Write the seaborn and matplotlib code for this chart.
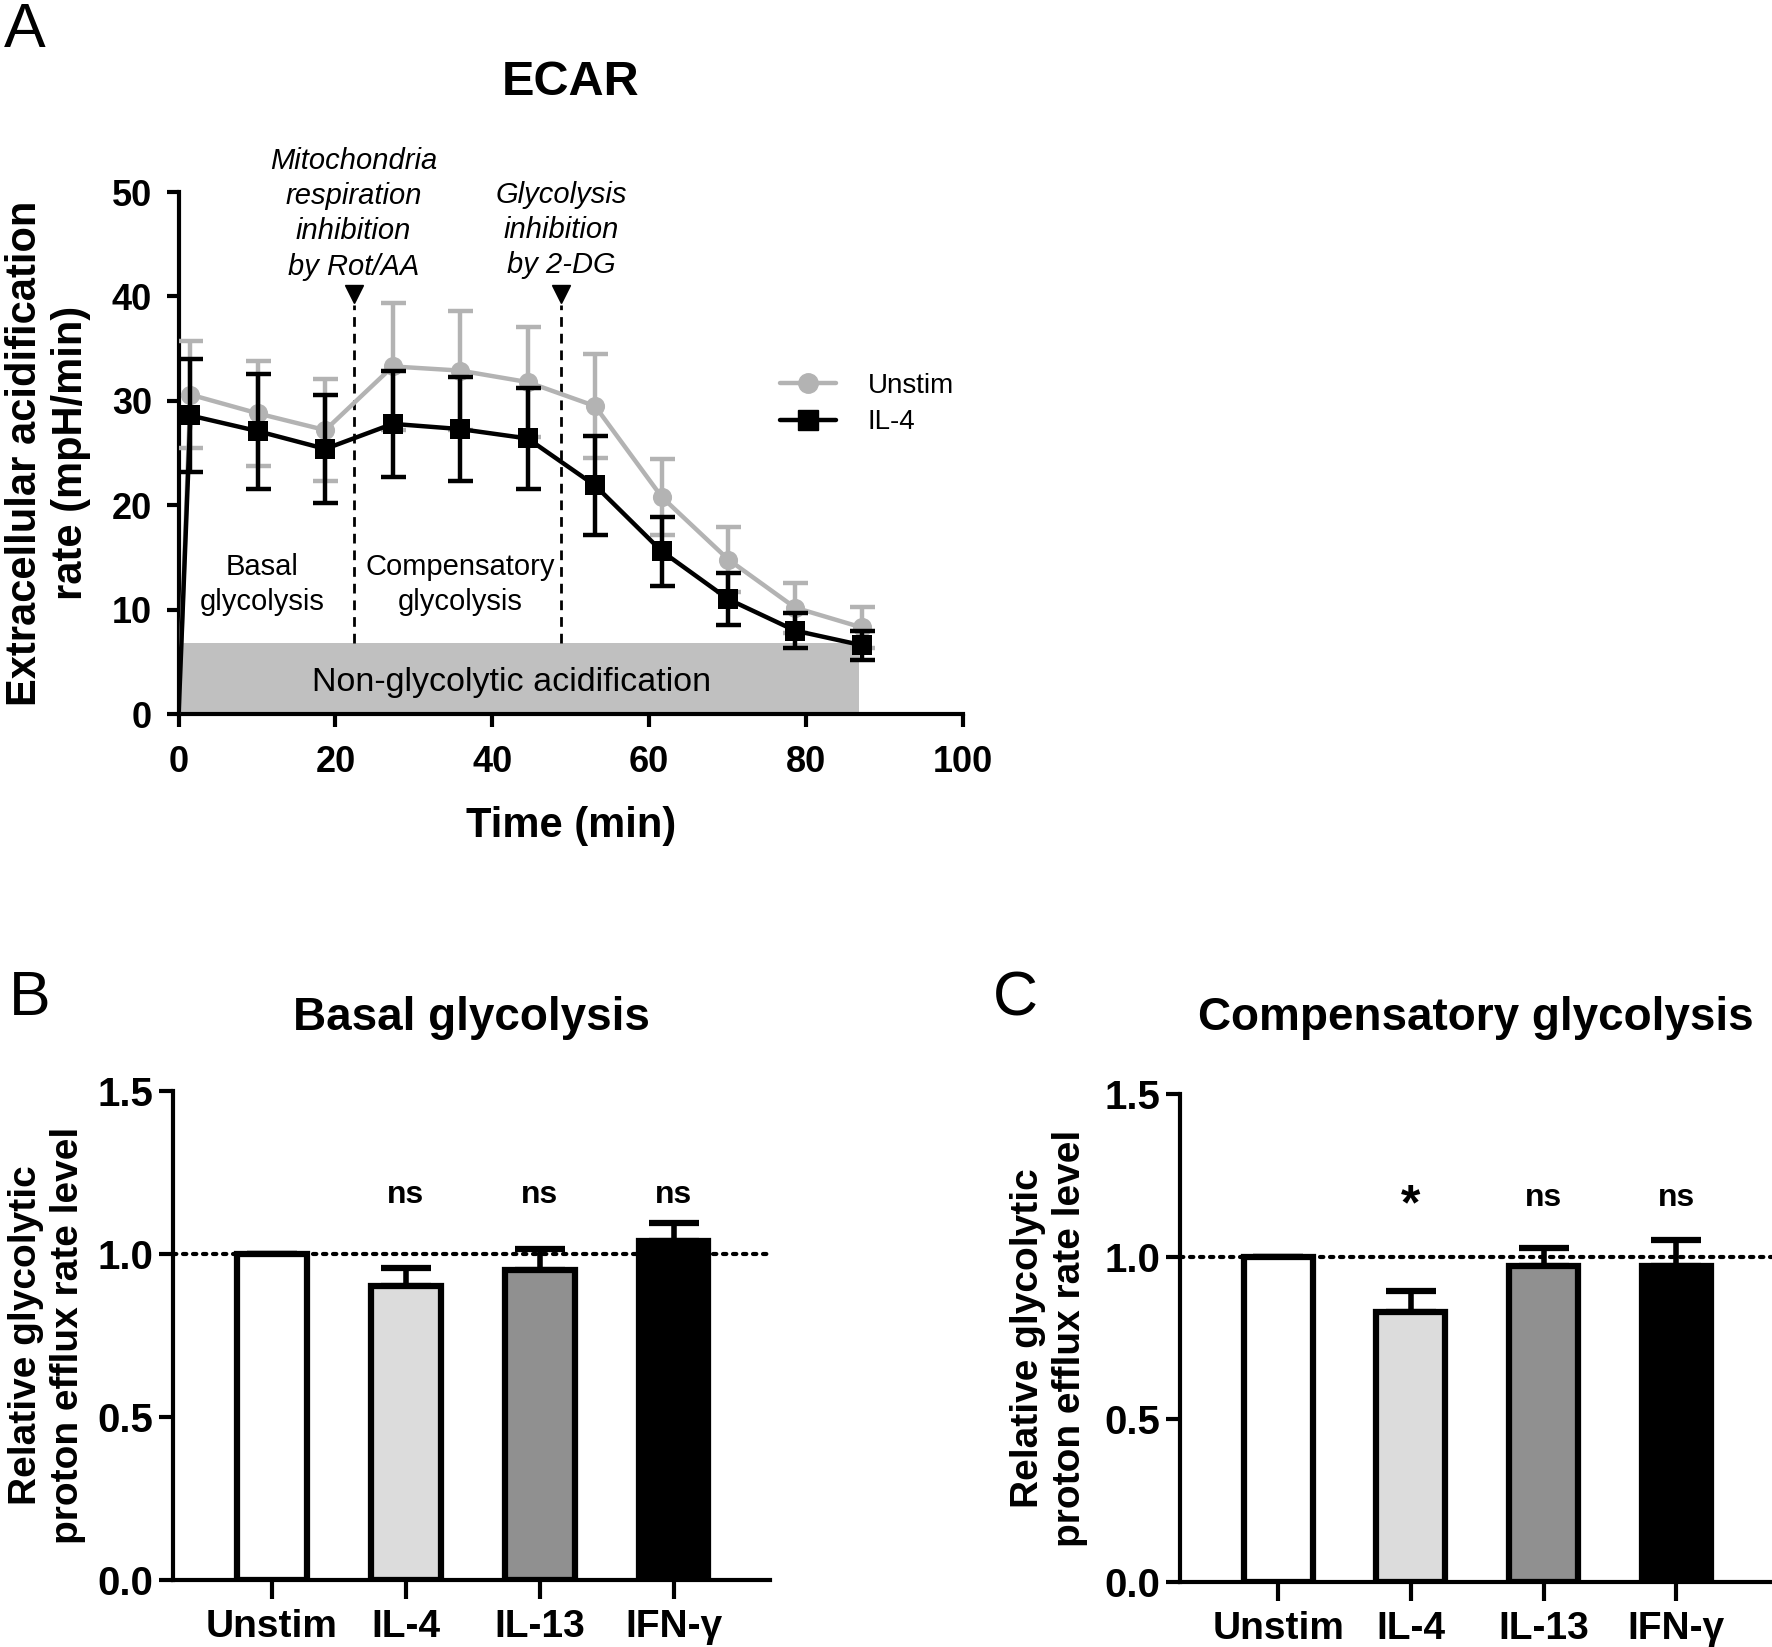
import numpy as np
import pandas as pd
import matplotlib
matplotlib.use("Agg")
import matplotlib.pyplot as plt
from matplotlib.lines import Line2D
import seaborn as sns

# ---- panel A: ECAR time course (mean +/- SD) ----
time_min = [0, 1.5, 10.1, 18.7, 27.3, 35.9, 44.5, 53.1, 61.6, 70.1, 78.6, 87.1]
unstim_ecar = [0, 30.6, 28.8, 27.2, 33.3, 32.9, 31.8, 29.5, 20.8, 14.8, 10.2, 8.3]
unstim_err = [0, 5.1, 5.0, 4.9, 6.1, 5.7, 5.3, 5.0, 3.6, 3.1, 2.4, 2.0]
il4_ecar = [0, 28.6, 27.1, 25.4, 27.8, 27.3, 26.4, 21.9, 15.6, 11.0, 8.0, 6.6]
il4_err = [0, 5.4, 5.5, 5.2, 5.1, 5.0, 4.8, 4.7, 3.3, 2.5, 1.7, 1.4]

injections = [22.3, 48.8]          # Rot/AA, 2-DG
nonglyco_level = 6.8
nonglyco_end = 86.8

# ---- panels B and C: relative glycoPER ----
stimuli = ["Unstim", "IL-4", "IL-13", "IFN-γ"]
bar_colors = ["white", "#dcdcdc", "#909090", "black"]
basal_rel = [1.0, 0.90, 0.95, 1.04]
basal_sem = [0, 0.055, 0.065, 0.055]
basal_sig = ["", "ns", "ns", "ns"]
comp_rel = [1.0, 0.83, 0.97, 0.97]
comp_sem = [0, 0.065, 0.056, 0.08]
comp_sig = ["", "*", "ns", "ns"]

sns.set_style("ticks")
plt.rcParams["font.family"] = ["Liberation Sans", "DejaVu Sans"]
for key in ["text.color", "axes.labelcolor", "xtick.color", "ytick.color", "axes.edgecolor"]:
    plt.rcParams[key] = "black"
grey = "#b3b3b3"

fig = plt.figure(figsize=(17.72, 16.47), dpi=100)
axA = fig.add_axes([0.1008, 0.5664, 0.4426, 0.3170])
axB = fig.add_axes([0.0976, 0.0407, 0.3369, 0.2971])
axC = fig.add_axes([0.6659, 0.0395, 0.3341, 0.2963])

# ---------------- A ----------------
df_a = pd.DataFrame({
    "time": time_min * 2,
    "ecar": unstim_ecar + il4_ecar,
    "err": unstim_err + il4_err,
    "group": ["Unstim"] * len(time_min) + ["IL-4"] * len(time_min),
})
styles = {"Unstim": (grey, "o", 190, 3), "IL-4": ("black", "s", 220, 4)}
for grp, (col, mk, size, z) in styles.items():
    d = df_a[df_a["group"] == grp]
    sns.lineplot(data=d, x="time", y="ecar", color=col, lw=3.2, sort=False,
                 errorbar=None, ax=axA, zorder=z)
    dm = d[d["time"] > 0]
    axA.errorbar(dm["time"], dm["ecar"], yerr=dm["err"], fmt="none", ecolor=col,
                 elinewidth=3.2, capsize=9, capthick=3.2, zorder=z)
    sns.scatterplot(data=dm, x="time", y="ecar", marker=mk, s=size, color=col,
                    edgecolor=col, linewidth=0, ax=axA, zorder=z + 0.5)

axA.fill_between([0, nonglyco_end], 0, nonglyco_level, color="#c0c0c0", lw=0, zorder=0.5)
axA.vlines(injections, nonglyco_level, 39.2, colors="black", lw=2,
           linestyles=(0, (3.5, 2.5)), zorder=1)
axA.plot(injections, [40.2, 40.2], ls="none", marker="v", ms=13, color="black",
         clip_on=False, zorder=5)

axA.text(injections[0], 47.9, "Mitochondria\nrespiration\ninhibition\nby Rot/AA",
         style="italic", fontsize=21, ha="center", va="center", linespacing=1.32)
axA.text(injections[1], 46.4, "Glycolysis\ninhibition\nby 2-DG",
         style="italic", fontsize=21, ha="center", va="center", linespacing=1.32)
axA.text(10.7, 12.4, "Basal\nglycolysis", fontsize=21, ha="center", va="center",
         linespacing=1.3)
axA.text(35.9, 12.4, "Compensatory\nglycolysis", fontsize=21, ha="center", va="center",
         linespacing=1.3)
axA.text(42.5, 3.0, "Non-glycolytic acidification", fontsize=24.5, ha="center", va="center")

axA.set_xlim(0, 100)
axA.set_ylim(0, 50)
axA.set_xticks(range(0, 101, 20))
axA.set_yticks(range(0, 51, 10))
sns.despine(ax=axA)
for s in ["left", "bottom"]:
    axA.spines[s].set_linewidth(3)
axA.tick_params(axis="both", width=3, length=9, labelsize=26)
axA.tick_params(axis="y", pad=10)
axA.tick_params(axis="x", pad=13)
plt.setp(axA.get_xticklabels() + axA.get_yticklabels(), fontweight="bold")
axA.set_xlabel("Time (min)", fontsize=30, fontweight="bold", va="center")
axA.xaxis.set_label_coords(0.5, -0.215)
axA.set_ylabel("Extracellular acidification\nrate (mpH/min)", fontsize=30,
               fontweight="bold", va="center")
axA.yaxis.set_label_coords(-0.167, 0.5)
axA.text(0.5, 1.21, "ECAR", transform=axA.transAxes, fontsize=35,
         fontweight="bold", ha="center", va="center")

handles = [Line2D([], [], color=grey, marker="o", ms=14, lw=3.2),
           Line2D([], [], color="black", marker="s", ms=14, lw=3.2)]
axA.legend(handles, ["Unstim", "IL-4"], loc="center left", bbox_to_anchor=(0.767, 0.594),
           frameon=False, fontsize=20, handlelength=2.0, handletextpad=1.15,
           borderpad=0, borderaxespad=0, labelspacing=0.38)


# ---------------- B, C ----------------
def bar_panel(ax, vals, sem, sig, title, title_y, label_x):
    sns.barplot(x=stimuli, y=vals, hue=stimuli, palette=bar_colors, legend=False,
                edgecolor="black", linewidth=4.5, width=0.52, errorbar=None, ax=ax)
    pos = np.arange(len(stimuli))
    ax.errorbar(pos, vals, yerr=[np.zeros(len(sem)), sem], fmt="none", ecolor="black",
                elinewidth=4, capsize=18, capthick=4.5, zorder=0.8)
    ax.axhline(1.0, ls=(0, (0.8, 1.6)), color="black", lw=3, zorder=0.6,
               dash_capstyle="round")
    for p, t in zip(pos, sig):
        if t == "*":
            ax.text(p, 1.155, t, fontsize=36, fontweight="bold", ha="center", va="center")
        elif t:
            ax.text(p, 1.18, t, fontsize=23, fontweight="bold", ha="center", va="center")
    ax.set_xlim(-0.74, 3.72)
    ax.set_ylim(0, 1.5)
    ax.set_yticks([0, 0.5, 1.0, 1.5])
    ax.set_yticklabels(["0.0", "0.5", "1.0", "1.5"])
    sns.despine(ax=ax)
    for s in ["left", "bottom"]:
        ax.spines[s].set_linewidth(3)
    ax.tick_params(axis="y", width=3, length=10, labelsize=29, pad=4)
    ax.tick_params(axis="x", width=3, length=14, labelsize=28, pad=7)
    plt.setp(ax.get_xticklabels() + ax.get_yticklabels(), fontweight="bold")
    ax.set_xlabel("")
    ax.set_ylabel("Relative glycolytic\nproton efflux rate level", fontsize=28,
                  fontweight="bold", va="center")
    ax.yaxis.set_label_coords(label_x, 0.5)
    ax.text(0.5, title_y, title, transform=ax.transAxes, fontsize=33,
            fontweight="bold", ha="center", va="center")


bar_panel(axB, basal_rel, basal_sem, basal_sig, "Basal glycolysis", 1.148, -0.211)
bar_panel(axC, comp_rel, comp_sem, comp_sig, "Compensatory glycolysis", 1.155, -0.221)

fig.text(0.0140, 0.9815, "A", fontsize=45, ha="center", va="center")
fig.text(0.0166, 0.3935, "B", fontsize=45, ha="center", va="center")
fig.text(0.573, 0.3935, "C", fontsize=45, ha="center", va="center")

fig.savefig("out.png", dpi=100)
